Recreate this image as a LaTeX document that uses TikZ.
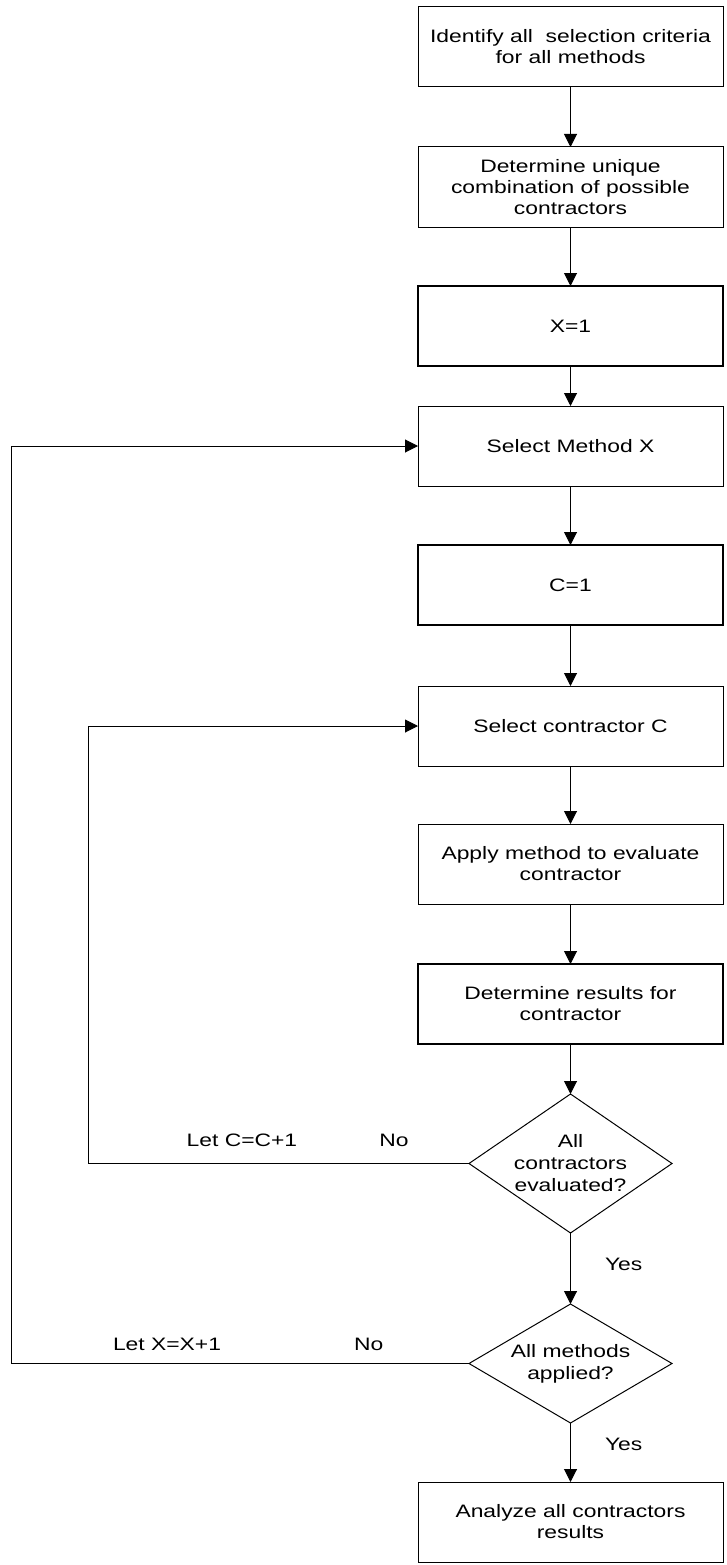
\documentclass[tikz,border=0pt]{standalone}
\usepackage{fontspec}
\setmainfont{Liberation Sans}[FakeStretch=1.27]
\usetikzlibrary{arrows.meta,positioning,shapes.geometric}

\begin{document}
\begin{tikzpicture}[
  x=1pt,y=-1pt,
  box/.style={rectangle,draw,line width=1pt,minimum width=305pt,minimum height=80pt,inner sep=0pt,outer sep=0pt,align=center,font=\fontsize{18}{21}\selectfont},
  boldbox/.style={box,line width=2pt},
  decision/.style={diamond,draw,line width=1pt,minimum width=203pt,inner sep=0pt,outer sep=0pt,align=center,font=\fontsize{18}{22}\selectfont},
  lbl/.style={inner sep=0pt,font=\fontsize{18}{21}\selectfont},
  flow/.style={-{Triangle[length=13pt,width=13pt]},line width=1pt}
]
  \useasboundingbox (0,0) rectangle (726,1565);
  \node[box] (ident) at (570.5,47) {Identify all\ \ selection criteria\\for all methods};
  \node[box,below=60pt of ident] (combo) {Determine unique\\combination of possible\\contractors};
  \node[boldbox,below=59pt of combo] (xone) {X=1};
  \node[box,below=40pt of xone] (selX) {Select Method X};
  \node[boldbox,below=59pt of selX] (cone) {C=1};
  \node[box,below=61pt of cone] (selC) {Select contractor C};
  \node[box,below=58pt of selC] (apply) {Apply method to evaluate\\contractor};
  \node[boldbox,below=60pt of apply] (res) {Determine results for\\contractor};
  \node[decision,aspect=1.46,minimum height=139pt,below=50pt of res] (chkC) {All\\contractors\\evaluated?};
  \node[decision,aspect=1.7,minimum height=119pt,below=71pt of chkC] (chkX) {All methods\\applied?};
  \node[box,below=59pt of chkX] (anal) {Analyze all contractors\\results};
  \draw[flow] (ident) -- (combo);
  \draw[flow] (combo) -- (xone);
  \draw[flow] (xone) -- (selX);
  \draw[flow] (selX) -- (cone);
  \draw[flow] (cone) -- (selC);
  \draw[flow] (selC) -- (apply);
  \draw[flow] (apply) -- (res);
  \draw[flow] (res) -- (chkC);
  \draw[flow] (chkC) -- node[lbl,right=34pt,yshift=4pt] {Yes} (chkX);
  \draw[flow] (chkX) -- node[lbl,right=34pt,yshift=8pt] {Yes} (anal);
  \draw[flow] (chkC.west) -- node[lbl,pos=0.197,above=16pt] {No} node[lbl,pos=0.596,above=16pt] {Let C=C+1} ++(-381pt,0) |- (selC.west);
  \draw[flow] (chkX.west) -- node[lbl,pos=0.219,above=12pt] {No} node[lbl,pos=0.66,above=12pt] {Let X=X+1} ++(-457.5pt,0) |- (selX.west);
\end{tikzpicture}
\end{document}
